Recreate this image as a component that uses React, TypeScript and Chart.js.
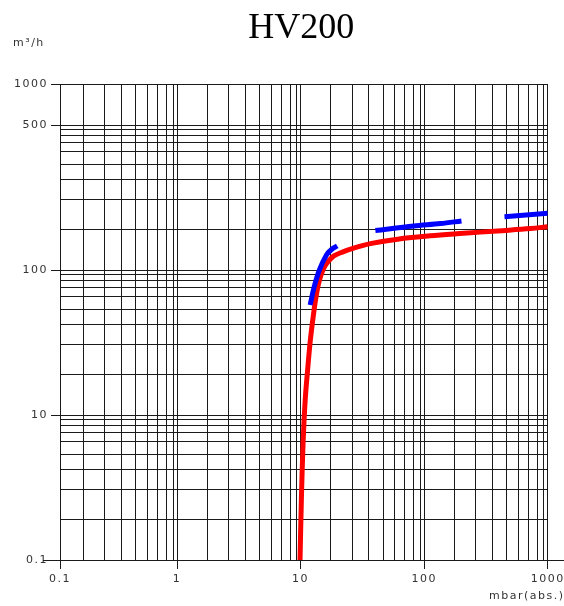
import React, { useEffect, useRef } from 'react';
import { Chart, registerables } from 'chart.js';

Chart.register(...registerables);

// ---- texts ----
const chartTitle = 'HV200';
const yUnit = 'm³/h';
const xUnit = 'mbar(abs.)';

// ---- x axis (pressure, log) ----
const xAxisStart = 0.113;
const xAxisEnd = 1000;
const xMajorValues = [0.113, 1, 10, 100, 1000];
const xMajorLabels = ['0.1', '1', '10', '100', '1000'];
const xMinorSteps = [1.76, 2.61, 3.57, 4.65, 5.78, 6.98, 8.22, 9.29];
const xMinorDecades = [0.1, 1, 10, 100];

// ---- y axis (flow, log) ----
const yAxisStart = 1;
const yAxisEnd = 1918;
const yMajorValues = [1, 10, 100, 1000, 1918];
const yMajorLabels = ['0.1', '10', '100', '500', '1000'];
const yMinorSteps = [1.89, 3.04, 4.22, 5.36, 6.55, 7.6, 8.53, 9.38];
const yMinorDecades = [1, 10, 100];

// ---- red curve ----
const redX = [9.9, 10.15, 10.5, 10.9, 11.4, 12.0, 12.7, 13.4, 14.2, 15.4, 16.8, 18.6, 21.8, 27.3, 36.7, 61, 112, 208, 392, 726, 1000];
const redY = [1, 2.6, 6.7, 12.7, 20.4, 32.9, 48.9, 67, 85, 103, 115, 125, 133, 142, 152, 163, 172, 179, 186, 193, 199];

// ---- blue segments ----
const blue1X = [11.95, 12.9, 14.2, 16.2, 17.9, 19.8];
const blue1Y = [57.4, 76.7, 100, 127, 139, 146.6];
const blue2X = [40.3, 82.4, 135.6, 200.5];
const blue2Y = [187, 201, 209, 218];
const blue3X = [447, 1000];
const blue3Y = [233, 246];

const GRID = '#1a1a1a';
const TEXT = '#333333';
const FONT = '"DejaVu Sans", sans-serif';

type T = { value: number; isMain: boolean; lbl: string };

function buildTicks(majors: number[], labels: string[], steps: number[], decades: number[]): T[] {
  const ticks: T[] = majors.map((v, i) => ({ value: v, isMain: true, lbl: labels[i] }));
  decades.forEach((d) => steps.forEach((s) => ticks.push({ value: d * s, isMain: false, lbl: '' })));
  ticks.sort((a, b) => a.value - b.value);
  return ticks;
}

const toPts = (xs: number[], ys: number[]) => xs.map((x, i) => ({ x, y: ys[i] }));

const decor = {
  id: 'decor',
  beforeUpdate(chart: any) {
    chart.ctx.letterSpacing = '1.5px';
  },
  beforeDraw(chart: any) {
    chart.ctx.letterSpacing = '1.5px';
  },
  afterDraw(chart: any) {
    const { ctx, chartArea } = chart;
    ctx.save();
    // bottom axis line continues beyond the plot on both sides
    const yb = Math.round(chartArea.bottom - 0.5) + 0.5;
    ctx.strokeStyle = GRID;
    ctx.lineWidth = 1;
    ctx.beginPath();
    ctx.moveTo(chartArea.left - 17, yb);
    ctx.lineTo(chart.width, yb);
    ctx.stroke();

    ctx.letterSpacing = '0px';
    ctx.font = '36px "Liberation Serif", serif';
    ctx.fillStyle = '#000';
    ctx.textAlign = 'center';
    ctx.textBaseline = 'alphabetic';
    ctx.fillText(chartTitle, (chartArea.left + chartArea.right) / 2 - 2.5, 38);

    ctx.letterSpacing = '1.5px';
    ctx.font = '11px ' + FONT;
    ctx.fillStyle = TEXT;
    ctx.textAlign = 'left';
    ctx.fillText(yUnit, 13, 46);
    ctx.fillText(xUnit, 489, 599);
    ctx.restore();
  },
};

export default function App() {
  const ref = useRef<HTMLCanvasElement | null>(null);

  useEffect(() => {
    if (!ref.current) return;
    const xTicks = buildTicks(xMajorValues, xMajorLabels, xMinorSteps, xMinorDecades);
    const yTicks = buildTicks(yMajorValues, yMajorLabels, yMinorSteps, yMinorDecades);

    const gridOpts = {
      color: GRID,
      lineWidth: 1,
      tickLength: 9,
      tickColor: (c: any) => (c.tick && c.tick.isMain ? GRID : 'rgba(0,0,0,0)'),
    };

    const chart = new Chart(ref.current, {
      type: 'line',
      data: {
        datasets: [
          {
            label: 'blue1',
            data: toPts(blue1X, blue1Y),
            borderColor: '#0000ff',
            borderWidth: 5,
            pointRadius: 0,
            tension: 0.35,
            order: 1,
          },
          {
            label: 'blue2',
            data: toPts(blue2X, blue2Y),
            borderColor: '#0000ff',
            borderWidth: 5,
            pointRadius: 0,
            tension: 0.35,
            order: 1,
          },
          {
            label: 'blue3',
            data: toPts(blue3X, blue3Y),
            borderColor: '#0000ff',
            borderWidth: 5,
            pointRadius: 0,
            order: 1,
          },
          {
            label: 'red',
            data: toPts(redX, redY),
            borderColor: '#ff0000',
            borderWidth: 5,
            pointRadius: 0,
            tension: 0.35,
            order: 2,
          },
        ],
      },
      options: {
        animation: false,
        responsive: false,
        devicePixelRatio: 1,
        layout: { autoPadding: false, padding: { top: 84, right: 16.3, left: 0, bottom: 0 } },
        plugins: { legend: { display: false }, tooltip: { enabled: false }, title: { display: false } },
        events: [],
        scales: {
          x: {
            type: 'logarithmic',
            min: xAxisStart,
            max: xAxisEnd,
            bounds: 'data',
            afterBuildTicks: (s: any) => {
              s.ticks = xTicks.map((t) => ({ ...t }));
            },
            afterFit: (s: any) => {
              s.height = 46;
              s.paddingLeft = 0;
              s.paddingRight = 0;
            },
            grid: gridOpts,
            border: { display: true, color: GRID, width: 1 },
            ticks: {
              autoSkip: false,
              maxRotation: 0,
              minRotation: 0,
              padding: 4,
              color: TEXT,
              font: { family: FONT, size: 11 },
              callback: (_v: any, i: number, ticks: any[]) => ticks[i].lbl,
            },
          },
          y: {
            type: 'logarithmic',
            min: yAxisStart,
            max: yAxisEnd,
            bounds: 'data',
            afterBuildTicks: (s: any) => {
              s.ticks = yTicks.map((t) => ({ ...t }));
            },
            afterFit: (s: any) => {
              s.width = 60;
              s.paddingTop = 0;
              s.paddingBottom = 0;
            },
            grid: gridOpts,
            border: { display: true, color: GRID, width: 1 },
            ticks: {
              autoSkip: false,
              padding: 3,
              color: TEXT,
              font: { family: FONT, size: 11 },
              callback: (_v: any, i: number, ticks: any[]) => ticks[i].lbl,
            },
          },
        },
      } as any,
      plugins: [decor],
    });
    return () => chart.destroy();
  }, []);

  return (
    <div style={{ position: 'absolute', left: 0, top: 0, width: 564, height: 606, background: '#fff' }}>
      <canvas ref={ref} width={564} height={606} style={{ display: 'block' }} />
    </div>
  );
}
